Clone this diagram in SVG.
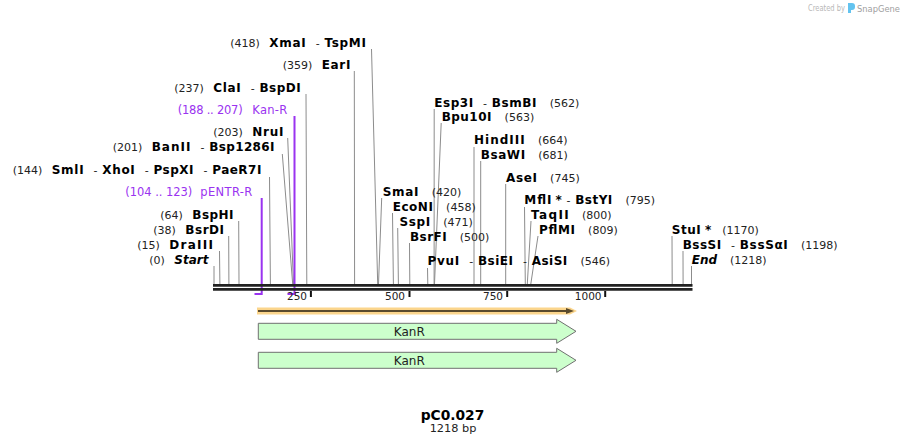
<svg xmlns="http://www.w3.org/2000/svg" width="905" height="445" viewBox="0 0 905 445">
<style>
text{font-family:"DejaVu Sans","Liberation Sans",sans-serif;}
.b{font-weight:bold;font-size:12px;fill:#000;}
.bi{font-weight:bold;font-style:italic;font-size:12px;fill:#000;}
.n{font-size:11px;fill:#222;}
.d{font-size:11px;fill:#222;}
.p{font-size:11.5px;fill:#9a33f0;}
.site{stroke:#8c8c8c;stroke-width:1;fill:none;}
.prim{stroke:#9a33f0;stroke-width:2;fill:none;}
.bb{stroke:#222;stroke-width:2.7;}
.tick{stroke:#111;stroke-width:2;}
.tl{font-size:10.5px;fill:#222;}
.feat{fill:#ccffcc;stroke:#707070;stroke-width:1;}
.ft{font-size:12px;fill:#222;text-anchor:middle;}
</style>

<g id="watermark">
<text x="808" y="11" textLength="37" lengthAdjust="spacingAndGlyphs" style="font-size:8px;fill:#b8b8b8">Created by</text>
<path d="M848,3 h4 a3,3 0 0 1 3,3 v1 a3,3 0 0 1 -3,3 h-1 v3 h-3 z" fill="#63c3ef"/>
<text x="857" y="12" textLength="43" lengthAdjust="spacingAndGlyphs" style="font-size:9.5px;fill:#a0a0a0">SnapGene</text>
</g>

<g id="connectors">
<line class="site" x1="214" y1="266" x2="214" y2="284"/>
<line class="site" x1="219.5" y1="251" x2="219.9" y2="284"/>
<line class="site" x1="228.7" y1="236" x2="228.9" y2="284"/>
<line class="site" x1="238.7" y1="221" x2="239" y2="284"/>
<line class="site" x1="269.5" y1="177" x2="270.4" y2="284"/>
<line class="site" x1="282.3" y1="154" x2="292.7" y2="284"/>
<line class="site" x1="287.7" y1="138" x2="293.5" y2="284"/>
<line class="site" x1="306" y1="94" x2="306.8" y2="284"/>
<line class="site" x1="354.3" y1="71" x2="354.6" y2="284"/>
<line class="site" x1="371.5" y1="49" x2="377.7" y2="284"/>
<line class="site" x1="381.7" y1="198" x2="378.5" y2="284"/>
<line class="site" x1="392.5" y1="213" x2="393.4" y2="284"/>
<line class="site" x1="397.7" y1="228" x2="398.4" y2="284"/>
<line class="site" x1="409.5" y1="243" x2="409.8" y2="284"/>
<line class="site" x1="427.5" y1="268" x2="427.8" y2="284"/>
<line class="site" x1="434.2" y1="109" x2="434.1" y2="284"/>
<line class="site" x1="441.2" y1="123" x2="434.5" y2="284"/>
<line class="site" x1="474" y1="147" x2="474" y2="284"/>
<line class="site" x1="480.7" y1="161" x2="480.7" y2="284"/>
<line class="site" x1="505.7" y1="184" x2="505.7" y2="284"/>
<line class="site" x1="524.5" y1="207" x2="525.3" y2="284"/>
<line class="site" x1="531" y1="221" x2="527.3" y2="284"/>
<line class="site" x1="538" y1="236" x2="530.8" y2="284"/>
<line class="site" x1="672" y1="236" x2="672.2" y2="284"/>
<line class="site" x1="683" y1="251" x2="683.1" y2="284"/>
<line class="site" x1="691.5" y1="266" x2="691.5" y2="284"/>
<polyline class="prim" points="261.7,198 261.7,294 254.5,294"/>
<polyline class="prim" points="294.5,116 294.5,294 287.5,294"/>
</g>

<g id="backbone">
<line class="bb" x1="213" y1="285.4" x2="692.5" y2="285.4"/>
<line class="bb" x1="213" y1="289.4" x2="692.5" y2="289.4"/>
<line class="tick" x1="310.9" y1="291" x2="310.9" y2="297"/>
<line class="tick" x1="409.5" y1="291" x2="409.5" y2="297"/>
<line class="tick" x1="507.2" y1="291" x2="507.2" y2="297"/>
<line class="tick" x1="605.2" y1="291" x2="605.2" y2="297"/>
<text class="tl" x="307" y="300" text-anchor="end">250</text>
<text class="tl" x="405" y="300" text-anchor="end">500</text>
<text class="tl" x="503" y="300" text-anchor="end">750</text>
<text class="tl" x="601.5" y="300" text-anchor="end">1000</text>
</g>

<g id="s-start"><text class="n" x="149.3" y="264">(0)</text><text class="bi" x="174.3" y="264">Start</text></g>
<g id="s-draiii"><text class="n" x="137.3" y="249">(15)</text><text class="b" x="169.3" y="249" textLength="43.6" lengthAdjust="spacing">DraIII</text></g>
<g id="s-bsrdi"><text class="n" x="153.3" y="234">(38)</text><text class="b" x="185.3" y="234" textLength="38.7" lengthAdjust="spacing">BsrDI</text></g>
<g id="s-bsphi"><text class="n" x="160.3" y="218.5">(64)</text><text class="b" x="192.3" y="218.5" textLength="41.2" lengthAdjust="spacing">BspHI</text></g>
<g id="p-pentr"><text class="p" x="125.3" y="196" textLength="67" lengthAdjust="spacing">(104 .. 123)</text><text class="p" x="200.3" y="196" textLength="52" lengthAdjust="spacing">pENTR-R</text></g>
<g id="s-smli"><text class="n" x="12.7" y="174">(144)</text><text class="b" x="51.7" y="174" textLength="31.9" lengthAdjust="spacing">SmlI</text><text class="d" x="93.6" y="174">-</text><text class="b" x="102.3" y="174" textLength="32.5" lengthAdjust="spacing">XhoI</text><text class="d" x="144.8" y="174">-</text><text class="b" x="153.5" y="174" textLength="40" lengthAdjust="spacing">PspXI</text><text class="d" x="203.5" y="174">-</text><text class="b" x="212.2" y="174" textLength="49.2" lengthAdjust="spacing">PaeR7I</text></g>
<g id="s-banii"><text class="n" x="112.7" y="151">(201)</text><text class="b" x="151.7" y="151" textLength="38.8" lengthAdjust="spacing">BanII</text><text class="d" x="200.5" y="151">-</text><text class="b" x="209.2" y="151" textLength="65.3" lengthAdjust="spacing">Bsp1286I</text></g>
<g id="s-nrui"><text class="n" x="213.3" y="135.5">(203)</text><text class="b" x="252.3" y="135.5" textLength="31.2" lengthAdjust="spacing">NruI</text></g>
<g id="p-kanr"><text class="p" x="177.7" y="114" textLength="65" lengthAdjust="spacing">(188 .. 207)</text><text class="p" x="252.3" y="114" textLength="35" lengthAdjust="spacing">Kan-R</text></g>
<g id="s-clai"><text class="n" x="174.3" y="91.5">(237)</text><text class="b" x="213.3" y="91.5" textLength="27.4" lengthAdjust="spacing">ClaI</text><text class="d" x="250.7" y="91.5">-</text><text class="b" x="259.4" y="91.5" textLength="41.2" lengthAdjust="spacing">BspDI</text></g>
<g id="s-eari"><text class="n" x="282.7" y="68.5">(359)</text><text class="b" x="321.7" y="68.5" textLength="28.7" lengthAdjust="spacing">EarI</text></g>
<g id="s-xmai"><text class="n" x="230.3" y="46.7">(418)</text><text class="b" x="269.3" y="46.7" textLength="36.4" lengthAdjust="spacing">XmaI</text><text class="d" x="315.7" y="46.7">-</text><text class="b" x="324.4" y="46.7" textLength="41.6" lengthAdjust="spacing">TspMI</text></g>

<g id="s-smai"><text class="b" x="382.7" y="196" textLength="35.8" lengthAdjust="spacing">SmaI</text><text class="n" x="431.7" y="196">(420)</text></g>
<g id="s-econi"><text class="b" x="392.7" y="211" textLength="40.2" lengthAdjust="spacing">EcoNI</text><text class="n" x="446.1" y="211">(458)</text></g>
<g id="s-sspi"><text class="b" x="399.5" y="225.5" textLength="30.6" lengthAdjust="spacing">SspI</text><text class="n" x="443.3" y="225.5">(471)</text></g>
<g id="s-bsrfi"><text class="b" x="410" y="241" textLength="36.6" lengthAdjust="spacing">BsrFI</text><text class="n" x="459.8" y="241">(500)</text></g>
<g id="s-pvui"><text class="b" x="427.5" y="265" textLength="31.7" lengthAdjust="spacing">PvuI</text><text class="d" x="469.2" y="265">-</text><text class="b" x="477.9" y="265" textLength="35.1" lengthAdjust="spacing">BsiEI</text><text class="d" x="523" y="265">-</text><text class="b" x="531.7" y="265" textLength="35.6" lengthAdjust="spacing">AsiSI</text><text class="n" x="580.5" y="265">(546)</text></g>
<g id="s-esp3i"><text class="b" x="434.3" y="106.5" textLength="38.8" lengthAdjust="spacing">Esp3I</text><text class="d" x="483.1" y="106.5">-</text><text class="b" x="491.8" y="106.5" textLength="44.7" lengthAdjust="spacing">BsmBI</text><text class="n" x="549.7" y="106.5">(562)</text></g>
<g id="s-bpu10i"><text class="b" x="441.7" y="121" textLength="49.7" lengthAdjust="spacing">Bpu10I</text><text class="n" x="504.6" y="121">(563)</text></g>
<g id="s-hindiii"><text class="b" x="474" y="144" textLength="50.7" lengthAdjust="spacing">HindIII</text><text class="n" x="537.9" y="144">(664)</text></g>
<g id="s-bsawi"><text class="b" x="480.7" y="158.5" textLength="44.4" lengthAdjust="spacing">BsaWI</text><text class="n" x="538.3" y="158.5">(681)</text></g>
<g id="s-asei"><text class="b" x="506" y="181.5" textLength="30.9" lengthAdjust="spacing">AseI</text><text class="n" x="550.1" y="181.5">(745)</text></g>
<g id="s-mfli"><text class="b" x="524.3" y="204" textLength="27.1" lengthAdjust="spacing">MflI</text><text class="b" x="555.5" y="204">*</text><text class="d" x="566.5" y="204">-</text><text class="b" x="575.2" y="204" textLength="37.1" lengthAdjust="spacing">BstYI</text><text class="n" x="625.5" y="204">(795)</text></g>
<g id="s-taqii"><text class="b" x="531" y="219" textLength="37.7" lengthAdjust="spacing">TaqII</text><text class="n" x="581.9" y="219">(800)</text></g>
<g id="s-pflmi"><text class="b" x="539" y="234.3" textLength="35.9" lengthAdjust="spacing">PflMI</text><text class="n" x="588.1" y="234.3">(809)</text></g>
<g id="s-stui"><text class="b" x="671.7" y="234.3" textLength="29.1" lengthAdjust="spacing">StuI</text><text class="b" x="704.9" y="234.3">*</text><text class="n" x="722.3" y="234.3">(1170)</text></g>
<g id="s-bsssi"><text class="b" x="682.7" y="249.3" textLength="38.4" lengthAdjust="spacing">BssSI</text><text class="d" x="731.1" y="249.3">-</text><text class="b" x="739.8" y="249.3" textLength="48" lengthAdjust="spacing">BssSαI</text><text class="n" x="801" y="249.3">(1198)</text></g>
<g id="s-end"><text class="bi" x="691.7" y="263.5">End</text><text class="n" x="730" y="263.5">(1218)</text></g>

<g id="orf">
<path d="M257,307.5 H570 L577,311 L570,314.5 H257 Z" fill="#fbd58c"/>
<line x1="258" y1="311" x2="570" y2="311" stroke="#5a4a2c" stroke-width="2"/>
<path d="M566,308 L574,311 L566,314 Z" fill="#5a4a2c"/>
</g>

<g id="f-kanr1">
<path class="feat" d="M258.3,323.3 H556.7 V319.3 L576,331.3 L556.7,343.3 V339.3 H258.3 Z"/>
<text class="ft" x="409.3" y="335.5">KanR</text>
</g>
<g id="f-kanr2">
<path class="feat" d="M258.3,352.3 H556.7 V348.3 L576,360.3 L556.7,372.3 V368.3 H258.3 Z"/>
<text class="ft" x="409.3" y="364.5">KanR</text>
</g>

<g id="title">
<text x="452.5" y="420" text-anchor="middle" style="font-weight:bold;font-size:13.8px;fill:#000">pC0.027</text>
<text x="453" y="431.7" text-anchor="middle" style="font-size:11.3px;fill:#222">1218 bp</text>
</g>
</svg>
